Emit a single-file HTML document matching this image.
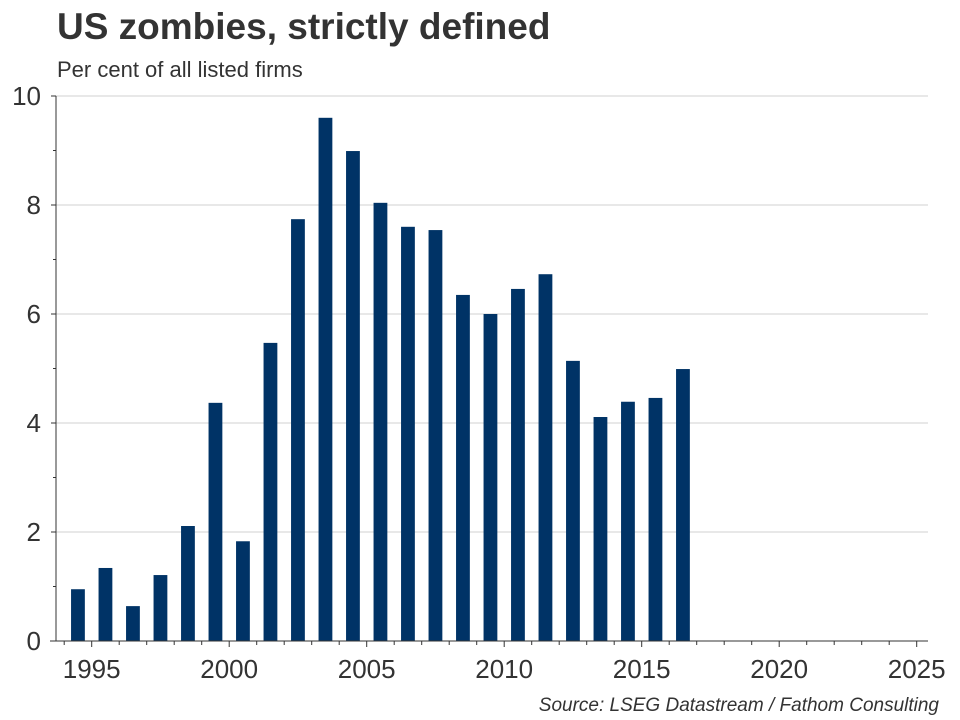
<!DOCTYPE html>
<html><head><meta charset="utf-8"><style>
body{margin:0;background:#fff;font-family:"Liberation Sans",sans-serif;}
svg{display:block}
</style></head><body>
<svg id="chart" width="960" height="720" xmlns="http://www.w3.org/2000/svg">
<text x="57" y="39" font-size="37" font-weight="bold" fill="#333">US zombies, strictly defined</text>
<text x="57" y="77" font-size="22" fill="#333">Per cent of all listed firms</text>
<text x="939" y="711" font-size="19" font-style="italic" fill="#333" text-anchor="end">Source: LSEG Datastream / Fathom Consulting</text>
<g id="grid"></g><g id="bars"></g><g id="axes"></g>
</svg>
<script>
const years=[1994,1995,1996,1997,1998,1999,2000,2001,2002,2003,2004,2005,2006,2007,2008,2009,2010,2011,2012,2013,2014,2015,2016];
const values=[0.95,1.34,0.64,1.21,2.11,4.37,1.83,5.47,7.74,9.6,8.99,8.04,7.6,7.54,6.35,6.0,6.46,6.73,5.14,4.11,4.39,4.46,4.99];
const yTicks=[0,2,4,6,8,10];
const xTicks=[1995,2000,2005,2010,2015,2020,2025];
const NS="http://www.w3.org/2000/svg";
const x=v=>91.7+(v-1995)*27.5;
const y=v=>641-v*54.5;
function mk(t,a,p){const e=document.createElementNS(NS,t);for(const k in a)e.setAttribute(k,a[k]);p.appendChild(e);return e;}
const grid=document.getElementById('grid'),bars=document.getElementById('bars'),axes=document.getElementById('axes');
yTicks.forEach(t=>{
 if(t>0){const g=mk('line',{x1:56,x2:928,y1:y(t),y2:y(t),stroke:'#d0d0d0','stroke-width':1},grid);
 
 }
 const l=mk('text',{x:41,y:y(t)+9,'font-size':26,fill:'#333','text-anchor':'end'},axes);l.textContent=t;
 
 
 mk('line',{x1:51,x2:56,y1:y(t),y2:y(t),stroke:'#333'},axes);
});
for(let t=1;t<10;t+=2){mk('line',{x1:53,x2:56,y1:y(t),y2:y(t),stroke:'#333'},axes);}
years.forEach((yr,i)=>{
 const r=mk('rect',{x:x(yr+0.5)-6.9,y:y(values[i]),width:13.8,height:y(0)-y(values[i]),fill:'#003366'},bars);
 
 
});
mk('line',{x1:56,x2:56,y1:96,y2:641,stroke:'#333'},axes);
mk('line',{x1:50,x2:928,y1:641,y2:641,stroke:'#333'},axes);
for(let yr=1994;yr<=2025;yr++){const maj=yr%5==0;mk('line',{x1:x(yr),x2:x(yr),y1:641,y2:641+(maj?6:4),stroke:'#333'},axes);}
xTicks.forEach(t=>{const l=mk('text',{x:x(t),y:678,'font-size':26,fill:'#333','text-anchor':'middle'},axes);l.textContent=t;
 
 });
</script>
</body></html>
